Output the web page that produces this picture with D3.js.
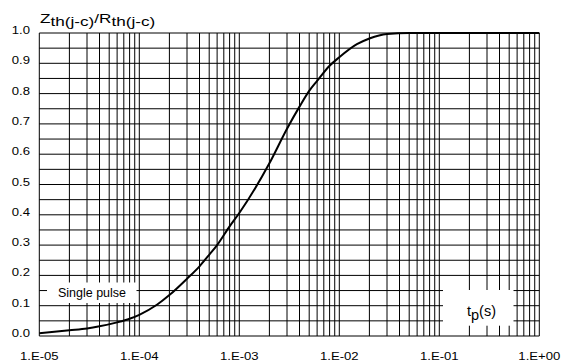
<!DOCTYPE html>
<html>
<head>
<meta charset="utf-8">
<script src="https://cdn.jsdelivr.net/npm/d3@7"></script>
<style>
  body { margin: 0; background: #fff; }
  svg { display: block; font-family: "Liberation Sans", Arial, sans-serif; }
</style>
</head>
<body>
<svg id="chart" width="570" height="363"></svg>
<script>
// pulse duration (s) and normalised thermal impedance
var pulseTimes = [1e-5, 2e-5, 3e-5, 4e-5, 6e-5, 8e-5, 1e-4, 1.5e-4, 2e-4, 3e-4, 4e-4, 5e-4, 6e-4, 8e-4,
                  1e-3, 2e-3, 3e-3, 4e-3, 5e-3, 6e-3, 8e-3, 1e-2, 1.5e-2, 2e-2, 3e-2, 5e-2, 1];
var zthRatio = [0.009, 0.019, 0.025, 0.032, 0.045, 0.057, 0.07, 0.103, 0.135, 0.189, 0.23, 0.268, 0.30, 0.362,
                0.406, 0.57, 0.684, 0.757, 0.809, 0.842, 0.892, 0.92, 0.963, 0.982, 0.997, 1.0, 1.0];

var xTickValues = [1e-5, 1e-4, 1e-3, 1e-2, 1e-1, 1];
var xTickLabels = ["1.E-05", "1.E-04", "1.E-03", "1.E-02", "1.E-01", "1.E+00"];
var yTickValues = [0, 0.1, 0.2, 0.3, 0.4, 0.5, 0.6, 0.7, 0.8, 0.9, 1.0];
var yGridValues = d3.range(0, 21).map(i => i * 0.05);

var config = {
    left: 39.3, right: 539.3, top: 33, bottom: 336,
    stretch: 1.25
};

var svg = d3.select("#chart");

var x = d3.scaleLog().domain([1e-5, 1]).range([config.left, config.right]);
var y = d3.scaleLinear().domain([0, 1]).range([config.bottom, config.top]);

// minor decade grid (1..9 in each decade)
var xGridValues = [];
for (var e = -5; e < 0; e++) {
    for (var m = 1; m < 10; m++) xGridValues.push(m * Math.pow(10, e));
}
xGridValues.push(1);

var grid = svg.append("g");
grid.selectAll("line.v").data(xGridValues).enter().append("line")
    .attr("x1", d => x(d)).attr("x2", d => x(d))
    .attr("y1", config.top).attr("y2", config.bottom)
    .attr("stroke", "#000").attr("stroke-width", 1);
grid.selectAll("line.h").data(yGridValues).enter().append("line")
    .attr("x1", config.left).attr("x2", config.right)
    .attr("y1", d => y(d)).attr("y2", d => y(d))
    .attr("stroke", "#000").attr("stroke-width", 1);

// curve
var line = d3.line()
    .x((d, i) => x(pulseTimes[i]))
    .y(d => y(d))
    .curve(d3.curveMonotoneX);

svg.append("path")
    .datum(zthRatio)
    .attr("d", line)
    .attr("fill", "none")
    .attr("stroke", "#000")
    .attr("stroke-width", 2);

// label boxes hiding the grid
svg.append("rect").attr("x", 47).attr("y", 282.5).attr("width", 89.5).attr("height", 20.5).attr("fill", "#fff");
svg.append("text")
    .attr("x", 92).attr("y", 297)
    .attr("text-anchor", "middle")
    .attr("font-size", 12.5)
    .text("Single pulse");

svg.append("rect").attr("x", 443).attr("y", 290).attr("width", 70.5).attr("height", 35.7).attr("fill", "#fff");
var tp = svg.append("text")
    .attr("x", 467).attr("y", 316)
    .attr("font-size", 14.5);
tp.append("tspan").text("t");
tp.append("tspan").attr("dy", 4).text("p");
tp.append("tspan").attr("dy", -4).text("(s)");

// tick labels
svg.selectAll("text.ylab").data(yTickValues).enter().append("text")
    .attr("transform", d => `translate(30,${y(d) + 1}) scale(${config.stretch},1)`)
    .attr("text-anchor", "end")
    .attr("font-size", 10.5)
    .text(d => d.toFixed(1));

svg.selectAll("text.xlab").data(xTickValues).enter().append("text")
    .attr("transform", d => `translate(${x(d)},359.5) scale(${config.stretch},1)`)
    .attr("text-anchor", "middle")
    .attr("font-size", 10.5)
    .text((d, i) => xTickLabels[i]);

// y title Zth(j-c)/Rth(j-c)
var title = svg.append("text")
    .attr("transform", "translate(40,22.7) scale(1.27,1)")
    .attr("font-size", 13.5);
title.append("tspan").text("Z");
title.append("tspan").attr("dy", 3.5).text("th(j-c)");
title.append("tspan").attr("dy", -3.5).text("/R");
title.append("tspan").attr("dy", 3.5).text("th(j-c)");
</script>
</body>
</html>
